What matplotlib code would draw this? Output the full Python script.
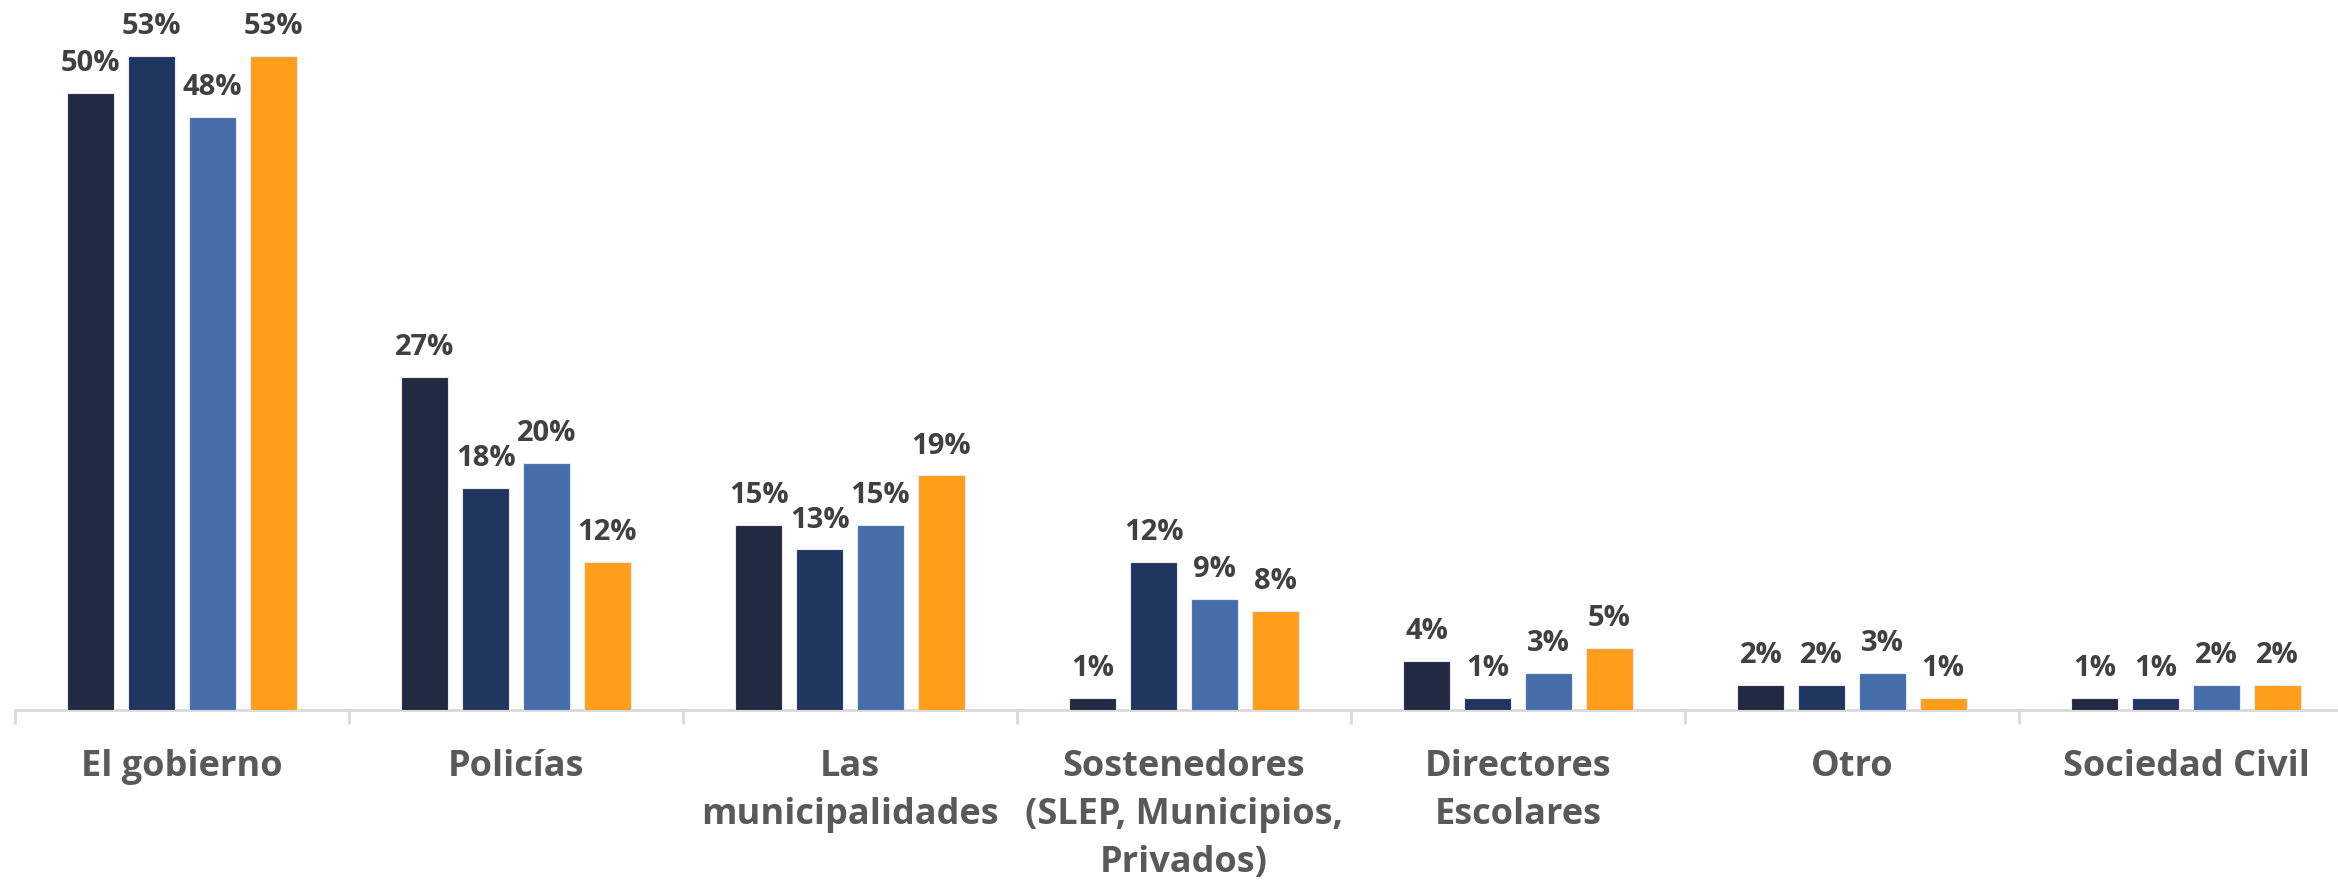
import numpy as np
import matplotlib.pyplot as plt

# categories and series (percent)
categories = ["El gobierno", "Policías", "Las\nmunicipalidades",
              "Sostenedores\n(SLEP, Municipios,\nPrivados)", "Directores\nEscolares",
              "Otro", "Sociedad Civil"]
serie_1 = [50, 27, 15, 1, 4, 2, 1]
serie_2 = [53, 18, 13, 12, 1, 2, 1]
serie_3 = [48, 20, 15, 9, 3, 3, 2]
serie_4 = [53, 12, 19, 8, 5, 1, 2]

colors = ['#222943', '#203560', '#446DA9', '#FF9E1B']

plt.rcParams['font.family'] = ['Open Sans', 'DejaVu Sans']

fig = plt.figure(figsize=(23.38, 8.89), dpi=100)
# axes runs slightly past the right edge, as in the original
ax = fig.add_axes([15 / 2338, 1 - 710 / 889, 7 * 334 / 2338, 710 / 889])

x = np.arange(len(categories))
step = 0.182
width = 0.141
series = [serie_1, serie_2, serie_3, serie_4]
for i, (vals, c) in enumerate(zip(series, colors)):
    pos = x + (i - 1.5) * step
    ax.bar(pos, vals, width=width, color=c, edgecolor='#E8EAF0', linewidth=0.8, zorder=3)
    for xb, v in zip(pos, vals):
        ax.text(xb, v + 1.2, f'{v}%', ha='center', va='bottom', fontsize=21,
                fontweight='bold', color='#404040')

ax.set_xlim(-0.5, len(categories) - 0.5)
ax.set_ylim(0, 57.5)

ax.set_xticks(x)
ax.set_xticklabels(categories, fontsize=26, fontweight='bold', color='#595959', linespacing=1.45)
ax.tick_params(axis='x', which='major', length=0, pad=28)
ax.set_xticks(np.arange(-0.5, len(categories)), minor=True)
ax.tick_params(axis='x', which='minor', length=10, width=2, color='#D9D9D9')

ax.set_yticks([])
for s in ['top', 'right', 'left']:
    ax.spines[s].set_visible(False)
ax.spines['bottom'].set_color('#D9D9D9')
ax.spines['bottom'].set_linewidth(2)

fig.savefig('out.png', dpi=100)
